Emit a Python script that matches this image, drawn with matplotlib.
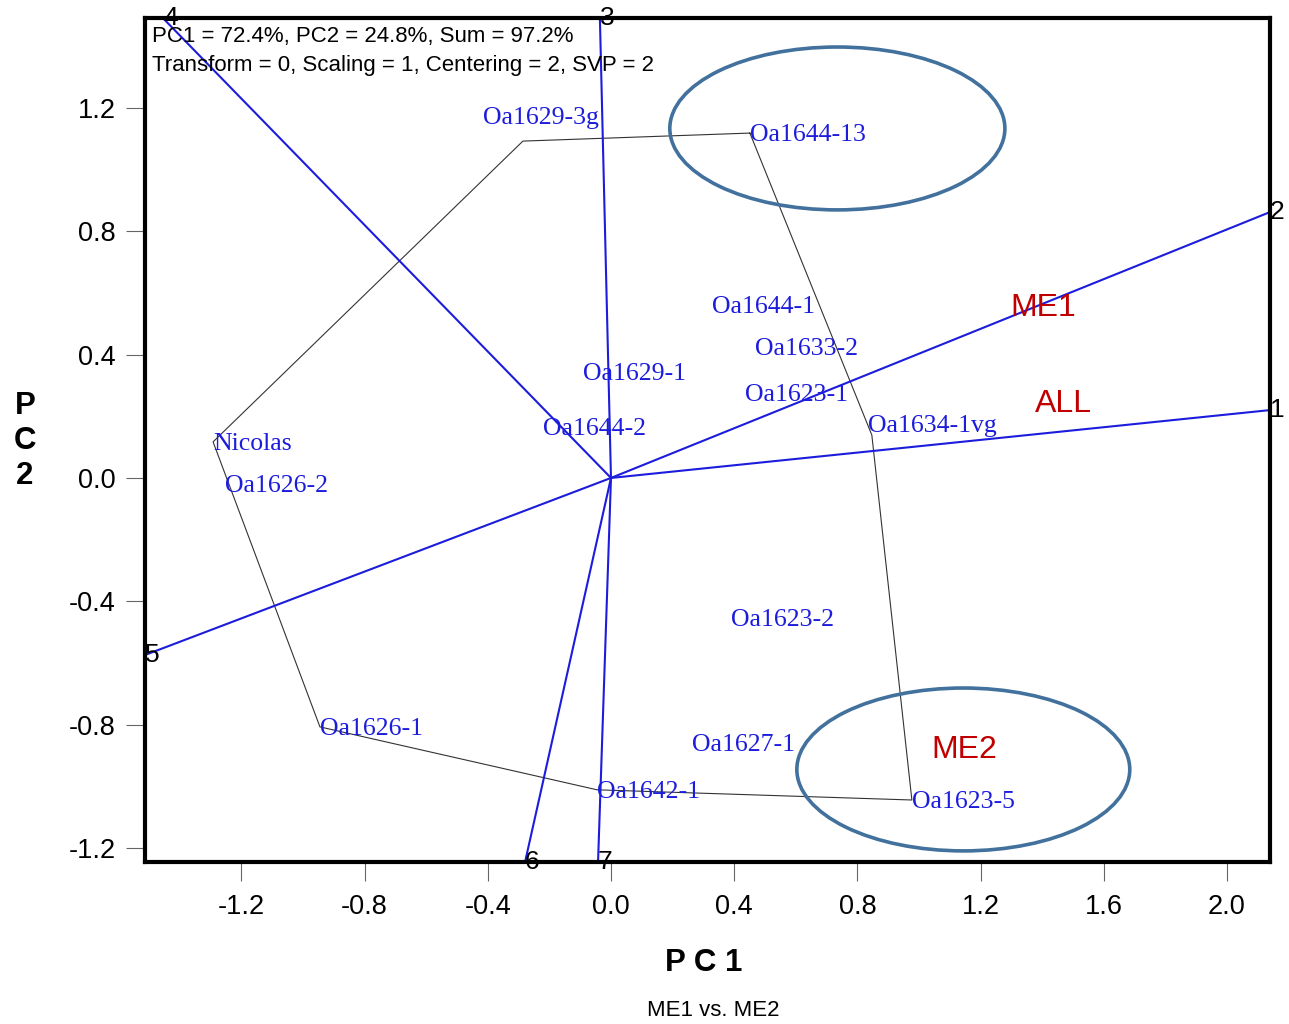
import matplotlib
matplotlib.use("Agg")
import matplotlib.pyplot as plt
from matplotlib.patches import Ellipse

plt.rcParams['font.family'] = ['Liberation Sans', 'DejaVu Sans']

# genotype scores (PC1, PC2)
genotypes = ['Oa1629-3g', 'Oa1644-13', 'Oa1634-1vg', 'Oa1623-5', 'Oa1642-1', 'Oa1626-1',
             'Nicolas', 'Oa1644-1', 'Oa1633-2', 'Oa1629-1', 'Oa1623-1', 'Oa1644-2',
             'Oa1626-2', 'Oa1623-2', 'Oa1627-1']
g_pc1 = [-0.286, 0.451, 0.847, 0.977, -0.045, -0.945, -1.292, 0.328, 0.468, -0.091,
         0.435, -0.221, -1.253, 0.390, 0.263]
g_pc2 = [1.092, 1.118, 0.139, -1.044, -1.011, -0.807, 0.117, 0.561, 0.425, 0.344,
         0.276, 0.165, -0.019, -0.454, -0.859]

# convex hull (polygon) vertices, in order
hull = ['Oa1644-13', 'Oa1634-1vg', 'Oa1623-5', 'Oa1642-1', 'Oa1626-1', 'Nicolas', 'Oa1629-3g']

# environment vectors (PC1, PC2)
envs = ['1', '2', '3', '4', '5', '6', '7']
e_pc1 = [2.14, 2.14, -0.036, -1.455, -1.513, -0.279, -0.042]
e_pc2 = [0.220, 0.862, 1.491, 1.491, -0.574, -1.245, -1.245]

# mega-environment labels
me_labels = ['ME1', 'ALL', 'ME2']
me_x = [1.403, 1.468, 1.146]
me_y = [0.551, 0.240, -0.882]

xticks = [-1.2, -0.8, -0.4, 0.0, 0.4, 0.8, 1.2, 1.6, 2.0]
yticks = [-1.2, -0.8, -0.4, 0.0, 0.4, 0.8, 1.2]

blue = '#1c1cdc'

fig = plt.figure(figsize=(12.89, 10.24), dpi=100)
ax = fig.add_axes([0.1125, 0.1582, 0.8728, 0.8242])
ax.set_xlim(-1.513, 2.14)
ax.set_ylim(-1.245, 1.491)

# environment vectors
for name, x, y in zip(envs, e_pc1, e_pc2):
    ax.plot([0, x], [0, y], color=blue, lw=1.5, zorder=3, clip_on=False)
    ax.text(x, y, name, fontsize=19, color='black', ha='left', va='center',
            clip_on=False, zorder=6)

# polygon
idx = [genotypes.index(g) for g in hull] + [genotypes.index(hull[0])]
ax.plot([g_pc1[i] for i in idx], [g_pc2[i] for i in idx], color='#333333', lw=0.8, zorder=2)

# genotype labels
offsets = {'Oa1629-3g': (-29, 18), 'Oa1634-1vg': (-3, 8)}
for name, x, y in zip(genotypes, g_pc1, g_pc2):
    dx, dy = offsets.get(name, (0, 0))
    ax.annotate(name, (x, y), xytext=(dx, dy - 1.5), textcoords='offset points',
                fontsize=18.5, family='Liberation Serif', color=blue, ha='left', va='center',
                zorder=5)

for name, x, y in zip(me_labels, me_x, me_y):
    ax.text(x, y, name, fontsize=23, color='#c00000', ha='center', va='center', zorder=5)
    
# highlight ellipses
ax.add_patch(Ellipse((0.735, 1.133), 1.088, 0.528, fill=False, ec='#41719c', lw=2.6, zorder=7))
ax.add_patch(Ellipse((1.144, -0.945), 1.081, 0.528, fill=False, ec='#41719c', lw=2.6, zorder=7))

ax.text(0.006, 0.990, 'PC1 = 72.4%, PC2 = 24.8%, Sum = 97.2%\nTransform = 0, Scaling = 1, Centering = 2, SVP = 2',
        transform=ax.transAxes, fontsize=16, ha='left', va='top', linespacing=1.45, zorder=8)

for s in ax.spines.values():
    s.set_linewidth(3)
    s.set_zorder(9)
ax.set_xticks(xticks)
ax.set_yticks(yticks)
ax.set_xticklabels([f'{v:.1f}' for v in xticks])
ax.set_yticklabels([f'{v:.1f}' for v in yticks])
ax.tick_params(direction='out', length=14, width=0.8, color='#666666', labelsize=19.5)
ax.tick_params(axis='x', pad=9)
ax.tick_params(axis='y', pad=7)

fig.text(704 / 1289, 1 - 963 / 1024, 'P C 1', fontsize=22.5, fontweight='bold', ha='center', va='center')
fig.text(25 / 1289, 1 - 441 / 1024, 'P\nC\n2', fontsize=22.5, fontweight='bold', ha='center',
         va='center', linespacing=1.2)
fig.text(713 / 1289, 1 - 1010 / 1024, 'ME1 vs. ME2', fontsize=16, ha='center', va='center')

fig.savefig('out.png', dpi=100)
